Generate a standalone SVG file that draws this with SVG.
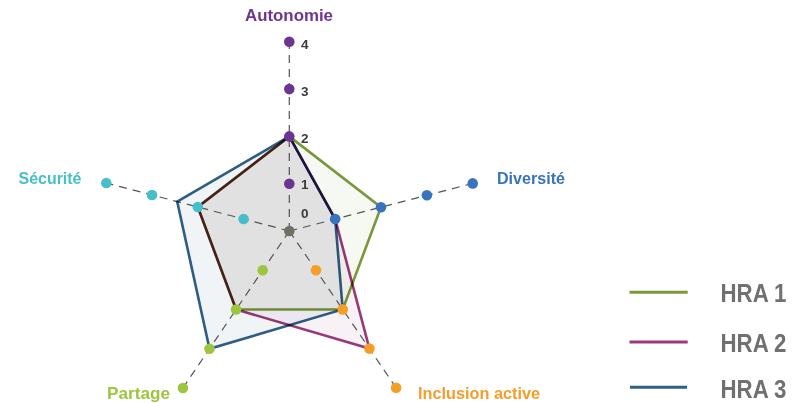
<svg xmlns="http://www.w3.org/2000/svg" width="796" height="403" viewBox="0 0 796 403">
<style>
.axis{stroke:#555;stroke-width:1.2;stroke-dasharray:8 6;fill:none}
.area{stroke:none}
.ln{fill:none;stroke-width:2.6;stroke-linejoin:miter;mix-blend-mode:multiply}
.lbl{font-family:"Liberation Sans",Arial,sans-serif;font-weight:bold;font-size:16.5px}
.num{font-family:"Liberation Sans",Arial,sans-serif;font-weight:bold;font-size:13.5px;fill:#3a3a3a}
.leg{font-family:"Liberation Sans",Arial,sans-serif;font-weight:bold;font-size:25px;fill:#707070}
.cA{fill:#6b3591}.cD{fill:#3874bd}.cI{fill:#f49d27}.cP{fill:#9dc53d}.cS{fill:#47bfc9}
</style>
<rect width="796" height="403" fill="#fff"/>
<g id="areas">
<polygon class="area" fill="#2f5f86" fill-opacity="0.068" points="289.3,136.4 335.2,219.1 342.7,309.4 209.5,348.8 177.2,201.6"/>
<polygon class="area" fill="#9b3a7a" fill-opacity="0.068" points="289.3,136.4 335.2,219.1 369.4,348.6 236.1,309.5 197.8,207"/>
<polygon class="area" fill="#7a9a3a" fill-opacity="0.068" points="289.3,136.4 381,207.2 342.7,309.4 236.1,309.5 197.8,207"/>
</g>
<g id="connectors">
<line class="axis" x1="289.3" y1="231" x2="289.3" y2="41.8"/>
<line class="axis" x1="289.3" y1="231" x2="472.7" y2="183.4"/>
<line class="axis" x1="289.3" y1="231" x2="396.1" y2="387.8"/>
<line class="axis" x1="289.3" y1="231" x2="182.9" y2="388"/>
<line class="axis" x1="289.3" y1="231" x2="106.3" y2="183"/>
</g>
<g id="series">
<polygon id="hra1" class="ln" stroke="#7a9a3a" points="289.3,136.4 381,207.2 342.7,309.4 236.1,309.5 197.8,207"/>
<polygon id="hra2" class="ln" stroke="#9b3a7a" points="289.3,136.4 335.2,219.1 369.4,348.6 236.1,309.5 197.8,207"/>
<polygon id="hra3" class="ln" stroke="#2f5f86" points="289.3,136.4 335.2,219.1 342.7,309.4 209.5,348.8 177.2,201.6"/>
</g>
<g id="node-autonomie">
<circle class="cA" cx="289.3" cy="183.7" r="5.3"/>
<circle class="cA" cx="289.3" cy="136.4" r="5.3"/>
<circle class="cA" cx="289.3" cy="89.1" r="5.3"/>
<circle class="cA" cx="289.3" cy="41.8" r="5.3"/>
<text class="lbl cA" x="245" y="21" textLength="88" lengthAdjust="spacingAndGlyphs">Autonomie</text>
</g>
<g id="node-diversite">
<circle class="cD" cx="335.2" cy="219.1" r="5.3"/>
<circle class="cD" cx="381" cy="207.2" r="5.3"/>
<circle class="cD" cx="426.9" cy="195.3" r="5.3"/>
<circle class="cD" cx="472.7" cy="183.4" r="5.3"/>
<text class="lbl cD" x="497" y="183.5" textLength="68" lengthAdjust="spacingAndGlyphs">Diversité</text>
</g>
<g id="node-inclusion">
<circle class="cI" cx="316" cy="270.2" r="5.3"/>
<circle class="cI" cx="342.7" cy="309.4" r="5.3"/>
<circle class="cI" cx="369.4" cy="348.6" r="5.3"/>
<circle class="cI" cx="396.1" cy="387.8" r="5.3"/>
<text class="lbl cI" x="418" y="398.5" textLength="122" lengthAdjust="spacingAndGlyphs">Inclusion active</text>
</g>
<g id="node-partage">
<circle class="cP" cx="262.7" cy="270.3" r="5.3"/>
<circle class="cP" cx="236.1" cy="309.5" r="5.3"/>
<circle class="cP" cx="209.5" cy="348.8" r="5.3"/>
<circle class="cP" cx="182.9" cy="388" r="5.3"/>
<text class="lbl cP" x="107" y="398.5" textLength="63" lengthAdjust="spacingAndGlyphs">Partage</text>
</g>
<g id="node-securite">
<circle class="cS" cx="243.6" cy="219" r="5.3"/>
<circle class="cS" cx="197.8" cy="207" r="5.3"/>
<circle class="cS" cx="152" cy="195" r="5.3"/>
<circle class="cS" cx="106.3" cy="183" r="5.3"/>
<text class="lbl cS" x="18.5" y="183.5" textLength="63" lengthAdjust="spacingAndGlyphs">Sécurité</text>
</g>
<g id="node-center">
<circle cx="289.3" cy="231" r="5.3" fill="#6f6f66"/>
</g>
<g id="scale">
<text class="num" x="301" y="48.5">4</text>
<text class="num" x="301" y="95.5">3</text>
<text class="num" x="301" y="142.5">2</text>
<text class="num" x="301" y="188.5">1</text>
<text class="num" x="301" y="218">0</text>
</g>
<g id="legend">
<line x1="629.5" y1="292.3" x2="687.7" y2="292.3" stroke="#7a9a3a" stroke-width="3"/>
<line x1="629.5" y1="342" x2="687.7" y2="342" stroke="#9b3a7a" stroke-width="3"/>
<line x1="630" y1="387.3" x2="687" y2="387.3" stroke="#2f5f86" stroke-width="3"/>
<text class="leg" x="720.5" y="302.3" textLength="66" lengthAdjust="spacingAndGlyphs">HRA 1</text>
<text class="leg" x="720.5" y="351.5" textLength="66" lengthAdjust="spacingAndGlyphs">HRA 2</text>
<text class="leg" x="720.5" y="397.5" textLength="66" lengthAdjust="spacingAndGlyphs">HRA 3</text>
</g>
</svg>
